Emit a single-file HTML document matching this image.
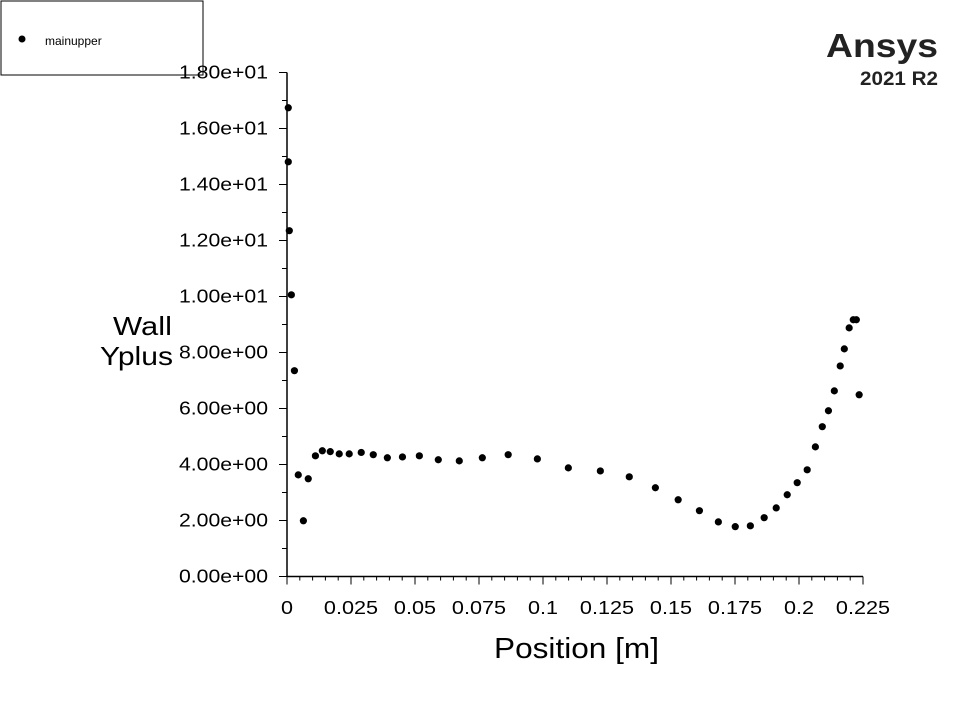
<!DOCTYPE html>
<html><head><meta charset="utf-8"><style>
html,body{margin:0;padding:0;background:#fff;}
svg{display:block;font-family:"Liberation Sans",Arial,sans-serif;}
</style></head><body>
<svg id="chart" width="960" height="720" viewBox="0 0 960 720">
  <rect x="1" y="1" width="202" height="74" fill="#fff" stroke="#000" stroke-width="1"/>
  <circle cx="22" cy="39" r="3.5" fill="#000"/>
  <text x="45" y="45" font-size="12" fill="#000">mainupper</text>
  <text x="938" y="57" font-size="33" font-weight="bold" text-anchor="end" fill="#222" textLength="112" lengthAdjust="spacingAndGlyphs">Ansys</text>
  <text x="938" y="85" font-size="19" font-weight="bold" text-anchor="end" fill="#222" textLength="78" lengthAdjust="spacingAndGlyphs">2021 R2</text>
  <g id="axes"></g>
  <g id="points"></g>
  <text x="113" y="335" font-size="26" textLength="59" lengthAdjust="spacingAndGlyphs">Wall</text>
  <text x="100" y="365" font-size="26" textLength="73" lengthAdjust="spacingAndGlyphs">Yplus</text>
  <text x="494" y="658" font-size="29" textLength="165" lengthAdjust="spacingAndGlyphs">Position [m]</text>
</svg>
<script>
const xTicks = [0, 0.025, 0.05, 0.075, 0.1, 0.125, 0.15, 0.175, 0.2, 0.225];
const xTickLabels = ["0","0.025","0.05","0.075","0.1","0.125","0.15","0.175","0.2","0.225"];
const yTicks = [0,2,4,6,8,10,12,14,16,18];
const yTickLabels = ["0.00e+00","2.00e+00","4.00e+00","6.00e+00","8.00e+00","1.00e+01","1.20e+01","1.40e+01","1.60e+01","1.80e+01"];
const xValues = [0.0005,0.0005,0.0009,0.0017,0.0029,0.0044,0.0064,0.0083,0.0111,0.0138,0.0169,0.0204,0.0243,0.0290,0.0337,0.0392,0.0451,0.0517,0.0591,0.0673,0.0763,0.0864,0.0978,0.1099,0.1224,0.1337,0.1439,0.1528,0.1611,0.1685,0.1751,0.1810,0.1864,0.1911,0.1954,0.1993,0.2032,0.2064,0.2091,0.2115,0.2138,0.2161,0.2177,0.2196,0.2212,0.2224,0.2235];
const yValues = [16.74,14.81,12.35,10.06,7.35,3.63,1.99,3.49,4.31,4.49,4.46,4.38,4.38,4.43,4.35,4.24,4.27,4.31,4.17,4.13,4.24,4.35,4.20,3.88,3.77,3.56,3.17,2.74,2.35,1.95,1.78,1.81,2.10,2.45,2.92,3.35,3.81,4.63,5.35,5.92,6.63,7.52,8.13,8.88,9.17,9.17,6.49];

const NS="http://www.w3.org/2000/svg";
const X0=287, XS=2560, Y0=576.5, YS=28;
function sx(v){return X0+v*XS;}
function sy(v){return Y0-v*YS;}
function mk(tag,attrs,parent){const e=document.createElementNS(NS,tag);for(const k in attrs)e.setAttribute(k,attrs[k]);parent.appendChild(e);return e;}
const axes=document.getElementById('axes');
let l=mk('line',{x1:sx(0),y1:sy(0),x2:sx(0.225),y2:sy(0),stroke:'#000','stroke-width':1.5},axes);


l=mk('line',{x1:sx(0),y1:sy(0),x2:sx(0),y2:sy(18),stroke:'#000','stroke-width':1.5},axes);


for(let i=0;i<=45;i++){
  const v=i*0.005; const major=i%5===0;
  const t=mk('line',{x1:sx(v),y1:sy(0),x2:sx(v),y2:sy(0)+(major?8:4),stroke:'#000','stroke-width':1},axes);
  
  
}
xTicks.forEach((v,i)=>{
  const t=mk('text',{x:sx(v),y:614,'font-size':18,'text-anchor':'middle'},axes);
  t.textContent=xTickLabels[i];
  
  
  const w=t.getComputedTextLength();
  if(w>0){t.setAttribute('textLength',(w*1.2).toFixed(1));t.setAttribute('lengthAdjust','spacingAndGlyphs');}
});
for(let i=0;i<=18;i++){
  const major=i%2===0;
  const t=mk('line',{x1:sx(0),y1:sy(i),x2:sx(0)-(major?8:5),y2:sy(i),stroke:'#000','stroke-width':1},axes);
  
  
}
yTicks.forEach((v,i)=>{
  const t=mk('text',{x:268,y:sy(v)+6,'font-size':18,'text-anchor':'end',textLength:89,lengthAdjust:'spacingAndGlyphs'},axes);
  t.textContent=yTickLabels[i];
  
  
});
const pts=document.getElementById('points');
xValues.forEach((x,i)=>{
  const c=mk('circle',{cx:sx(x),cy:sy(yValues[i]),r:3.6,fill:'#000'},pts);
  
  
});
</script>
</body></html>
